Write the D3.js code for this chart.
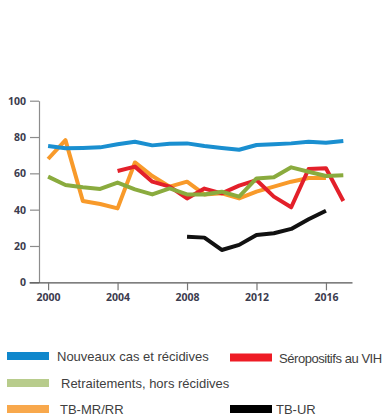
<!DOCTYPE html>
<html>
<head>
<meta charset="utf-8">
<script src="https://cdn.jsdelivr.net/npm/d3@7"></script>
<style>
  html, body { margin: 0; padding: 0; background: #fff; }
  svg { display: block; }
</style>
</head>
<body>
<svg id="chart" width="392" height="419"></svg>
<script>
// Years and series values (%)
const years = [2000,2001,2002,2003,2004,2005,2006,2007,2008,2009,2010,2011,2012,2013,2014,2015,2016,2017];

const nouveaux = [75,73.8,74,74.3,76,77.4,75.4,76.3,76.5,75,74,73,75.6,76,76.5,77.4,76.9,77.8];
const retraitements = [58.2,53.6,52.3,51.4,54.9,51.2,48.4,51.7,48.4,48.4,49.9,47.2,57.2,57.8,63.3,60.9,58.5,58.9];
const tbmr = [67.9,78.3,44.8,43.1,40.7,66,58.5,52.7,55.4,48.4,49,46.2,49.9,52.7,55.4,57.4,57.4,null];
const vih = [null,null,null,null,61.3,63.7,55.4,52.7,46.2,51.6,49,53.2,56.3,47.2,41.3,62.4,62.8,44.8];
const tbur = [null,null,null,null,null,null,null,null,25.1,24.6,17.8,20.6,26.1,27,29.4,34.7,39.4,null];

const xTicks = [2000,2004,2008,2012,2016];
const yTicks = [0,20,40,60,80,100];

const series = [
  {name: "TB-MR/RR", values: tbmr, line: "#f89a2a", key: "#f8a84c"},
  {name: "Séropositifs au VIH", values: vih, line: "#e3202a", key: "#ee1c25"},
  {name: "Retraitements, hors récidives", values: retraitements, line: "#8aab3e", key: "#b8cc8c"},
  {name: "TB-UR", values: tbur, line: "#111111", key: "#000000"},
  {name: "Nouveaux cas et récidives", values: nouveaux, line: "#1a8fd0", key: "#0f87cc"}
];

const svg = d3.select("#chart");

const x = d3.scaleLinear().domain([1998.9, 2017.5]).range([29, 352]);
const y = d3.scaleLinear().domain([0, 100]).range([282.3, 100.7]);

const tickFont = "'Open Sans', sans-serif";

// Y axis
const gy = svg.append("g")
  .attr("transform", "translate(39,0)")
  .call(d3.axisLeft(y).tickValues(yTicks).tickSize(9).tickSizeOuter(0).tickPadding(4));
gy.select(".domain").attr("stroke", "#8c8c8c").attr("stroke-width", 1.2);
gy.selectAll(".tick line").attr("stroke", "#8c8c8c").attr("stroke-width", 1.2);
gy.selectAll(".tick text")
  .attr("fill", "#3c3c4e").attr("font-family", tickFont)
  .attr("font-weight", 700).attr("font-size", "10.5px");

// X axis
const gx = svg.append("g")
  .attr("transform", `translate(0,${y(0)})`)
  .call(d3.axisBottom(x).tickValues(xTicks).tickFormat(d3.format("d")).tickSize(8).tickSizeOuter(0).tickPadding(3));
gx.select(".domain").attr("stroke", "#555").attr("stroke-width", 1.2);
gx.selectAll(".tick line").attr("stroke", "#777").attr("stroke-width", 1.2);
gx.selectAll(".tick text")
  .attr("fill", "#3c3c4e").attr("font-family", tickFont)
  .attr("font-weight", 700).attr("font-size", "10.5px");

// Series lines
const line = d3.line()
  .defined(d => d != null)
  .x((d, i) => x(years[i]))
  .y(d => y(d));

svg.append("g").selectAll("path")
  .data(series)
  .join("path")
  .attr("d", s => line(s.values))
  .attr("fill", "none")
  .attr("stroke", s => s.line)
  .attr("stroke-width", 4)
  .attr("stroke-linejoin", "round");

// Legend
const legendItems = [
  {s: series[4], x: 7, y: 356, tx: 57, ty: 361},
  {s: series[1], x: 230, y: 357.5, tx: 279, ty: 363, ls: -0.45},
  {s: series[2], x: 7, y: 383, tx: 61, ty: 388},
  {s: series[0], x: 7, y: 409, tx: 60, ty: 413.5},
  {s: series[3], x: 230, y: 409, tx: 276, ty: 413.5}
];
const lg = svg.append("g");
legendItems.forEach(it => {
  lg.append("rect")
    .attr("x", it.x).attr("y", it.y - 4)
    .attr("width", 42).attr("height", 8)
    .attr("fill", it.s.key);
  lg.append("text")
    .attr("x", it.tx).attr("y", it.ty)
    .attr("font-family", "'Liberation Sans', Arial, sans-serif")
    .attr("font-size", "13px")
    .attr("fill", "#404040")
    .attr("letter-spacing", it.ls || 0)
    .text(it.s.name);
});
</script>
</body>
</html>
